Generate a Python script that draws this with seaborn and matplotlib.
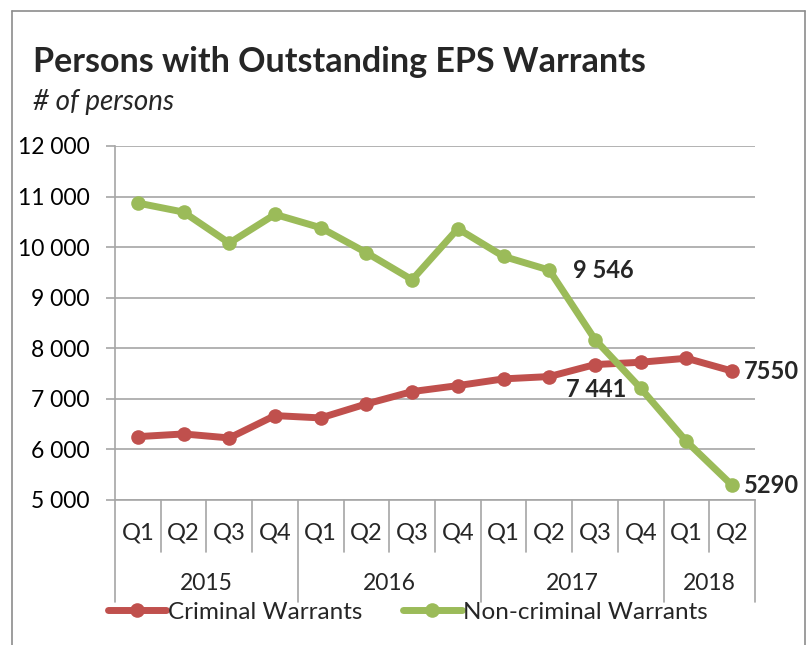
import matplotlib
matplotlib.use("Agg")
import matplotlib.pyplot as plt
from matplotlib.lines import Line2D
from matplotlib.ticker import FuncFormatter
import seaborn as sns
import pandas as pd

# quarters along the x axis and the year each one belongs to
quarters = ["Q1", "Q2", "Q3", "Q4"] * 3 + ["Q1", "Q2"]
quarter_years = ["2015"] * 4 + ["2016"] * 4 + ["2017"] * 4 + ["2018"] * 2

criminal = [6253, 6306, 6227, 6669, 6623, 6900, 7144,
            7262, 7395, 7441, 7678, 7724, 7803, 7550]
non_criminal = [10872, 10693, 10080, 10648, 10384, 9890, 9355,
                10365, 9816, 9546, 8173, 7209, 6160, 5290]

series_names = ["Criminal Warrants", "Non-criminal Warrants"]
colors = ["#C0504D", "#9BBB59"]
grey = "#A6A6A6"

sns.set_theme(style="white")
plt.rcParams["font.family"] = ["Lato", "DejaVu Sans"]

n = len(quarters)
df = pd.DataFrame({
    "period": list(range(n)) * 2,
    "persons": criminal + non_criminal,
    "series": [series_names[0]] * n + [series_names[1]] * n,
})

fig = plt.figure(figsize=(8.1, 6.45), dpi=100)
ax = fig.add_axes([115 / 810, 145 / 645, 640 / 810, 354 / 645])

sns.lineplot(data=df, x="period", y="persons", hue="series",
             palette=colors, marker="o", markersize=10.5, markeredgewidth=0,
             linewidth=5, errorbar=None, legend=False, ax=ax,
             solid_joinstyle="round", solid_capstyle="round")

ax.set_xlim(-0.5, n - 0.5)
ax.set_ylim(5000, 12000)
ax.set_yticks(range(5000, 12001, 1000))
ax.yaxis.set_major_formatter(FuncFormatter(lambda v, p: f"{v:,.0f}".replace(",", " ")))
ax.set_xticks([])
ax.set_xlabel("")
ax.set_ylabel("")
ax.yaxis.grid(True, color=grey, lw=1.2)
ax.tick_params(axis="y", length=6.5, width=1.2, color=grey, labelsize=16.5,
               labelcolor="black", pad=12, left=True)
for s in ["top", "right"]:
    ax.spines[s].set_visible(False)
for s in ["left", "bottom"]:
    ax.spines[s].set_color(grey)
    ax.spines[s].set_linewidth(1.2)

# multi-level category axis
xt = ax.get_xaxis_transform()
for i, q in enumerate(quarters):
    ax.text(i, -0.093, q, transform=xt, ha="center", va="center", fontsize=17)
for k in range(n + 1):
    if k == 0 or k == n or quarter_years[k] != quarter_years[k - 1]:
        y0 = -0.288
    else:
        y0 = -0.147
    ax.plot([k - 0.5, k - 0.5], [0, y0], transform=xt, color=grey, lw=1.2,
            clip_on=False)
for yr in dict.fromkeys(quarter_years):
    idx = [i for i, y in enumerate(quarter_years) if y == yr]
    ax.text(sum(idx) / len(idx), -0.237, yr, transform=xt, ha="center",
            va="center", fontsize=16.5)

# data labels
lbl = dict(textcoords="offset points", fontsize=17, weight="bold", va="center")
ax.annotate("9 546", xy=(9, non_criminal[9]), xytext=(17, 0), ha="left", **lbl)
ax.annotate("7 441", xy=(9, criminal[9]), xytext=(34, -9.5), ha="center", **lbl)
ax.annotate(f"{criminal[-1]}", xy=(n - 1, criminal[-1]), xytext=(8.5, 0),
            ha="left", **lbl)
ax.annotate(f"{non_criminal[-1]}", xy=(n - 1, non_criminal[-1]), xytext=(8.5, 0),
            ha="left", **lbl)

# titles
fig.text(33 / 810, 1 - 72 / 645, "Persons with Outstanding EPS Warrants",
         fontsize=24.5, weight="bold", va="baseline")
fig.text(33 / 810, 1 - 110 / 645, "# of persons", fontsize=20,
         style="italic", va="baseline")

# legend
handles = [Line2D([], [], color=c, lw=5, marker="o", markersize=10.5,
                  markeredgewidth=0) for c in colors]
fig.legend(handles, series_names, loc="center left",
           bbox_to_anchor=(108 / 810, 1 - 612 / 645), ncol=2, frameon=False,
           fontsize=17.5, handlelength=2.4, handletextpad=0.05,
           columnspacing=1.7, borderpad=0, borderaxespad=0)

# chart frame
for xs, ys in [([12, 12], [11, 645]), ([12, 805], [11, 11]), ([805, 805], [11, 645])]:
    fig.add_artist(Line2D([x / 810 for x in xs], [1 - y / 645 for y in ys],
                          transform=fig.transFigure, color="#8C8C8C", lw=1.2))

fig.savefig("out.png", dpi=100)
